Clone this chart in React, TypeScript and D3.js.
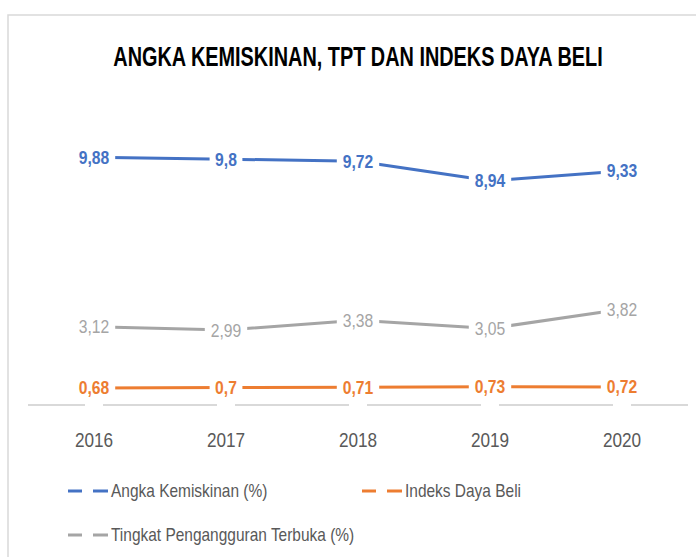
import * as d3 from "d3";

// ---------------------------------------------------------------------------
// Data
// ---------------------------------------------------------------------------

const YEARS = ["2016", "2017", "2018", "2019", "2020"];
const KEMISKINAN = [9.88, 9.8, 9.72, 8.94, 9.33];
const TPT = [3.12, 2.99, 3.38, 3.05, 3.82];
const DAYA_BELI = [0.68, 0.7, 0.71, 0.73, 0.72];

const SERIES = [
  { name: "Angka Kemiskinan (%)", values: KEMISKINAN, color: "#4472C4" },
  { name: "Tingkat Pengangguran Terbuka (%)", values: TPT, color: "#A5A5A5" },
  { name: "Indeks Daya Beli", values: DAYA_BELI, color: "#ED7D31" },
];

const TITLE = "ANGKA KEMISKINAN, TPT DAN INDEKS DAYA BELI";

const W = 696;
const H = 557;
const FONT = "'Liberation Sans', Arial, sans-serif";
const fmt = (v: number) => String(v).replace(".", ",");

// narrow text, like the Calibri look of the original
function NText({
  x,
  y,
  sx = 0.84,
  anchor = "start",
  children,
  ...rest
}: any) {
  return (
    <text
      transform={`translate(${x},${y}) scale(${sx},1)`}
      textAnchor={anchor}
      fontFamily={FONT}
      {...rest}
    >
      {children}
    </text>
  );
}

export default function App() {
  const x = d3.scaleBand().domain(YEARS).range([28, 688]);
  const cx = (yr: string) => (x(yr) ?? 0) + x.bandwidth() / 2;
  const y = d3.scaleLinear().domain([0, 12]).range([405, 104]);

  const line = d3
    .line<number>()
    .x((_d, i) => cx(YEARS[i]))
    .y((d) => y(d));

  const legend = [
    { s: SERIES[0], lx: 68, ly: 491 },
    { s: SERIES[2], lx: 362, ly: 491 },
    { s: SERIES[1], lx: 68, ly: 535 },
  ];

  return (
    <svg
      width={W}
      height={H}
      style={{ position: "absolute", left: 0, top: 0, background: "#fff" }}
    >
      <rect x={0} y={0} width={W} height={H} fill="#fff" />
      {/* chart frame, running off the right and bottom edges */}
      <rect
        x={8}
        y={15}
        width={W + 20}
        height={H + 20}
        fill="#fff"
        stroke="#D9D9D9"
        strokeWidth={1.5}
      />

      <NText
        x={358}
        y={66}
        sx={0.71}
        anchor="middle"
        fontSize={28}
        fontWeight="bold"
        fill="#000"
      >
        {TITLE}
      </NText>

      {/* category axis, broken at each category */}
      {YEARS.map((yr, i) => {
        const x0 = i === 0 ? 28 : cx(YEARS[i - 1]) + 9;
        const x1 = cx(yr) - 9;
        return (
          <line key={yr} x1={x0} x2={x1} y1={405} y2={405} stroke="#D9D9D9" strokeWidth={2} />
        );
      })}
      <line
        x1={cx(YEARS[YEARS.length - 1]) + 9}
        x2={688}
        y1={405}
        y2={405}
        stroke="#D9D9D9"
        strokeWidth={2}
      />

      {YEARS.map((yr) => (
        <NText
          key={yr}
          x={cx(yr)}
          y={447}
          sx={0.86}
          anchor="middle"
          fontSize={20}
          fill="#595959"
        >
          {yr}
        </NText>
      ))}

      {SERIES.map((s) => (
        <path
          key={s.name}
          d={line(s.values) ?? ""}
          fill="none"
          stroke={s.color}
          strokeWidth={3}
          strokeLinejoin="round"
        />
      ))}

      {SERIES.map((s) =>
        s.values.map((v, i) => {
          const label = fmt(v);
          const w = label.length * 9.6;
          return (
            <g key={s.name + i}>
              <rect
                x={cx(YEARS[i]) - w / 2 - 2}
                y={y(v) - 10}
                width={w + 4}
                height={20}
                fill="#fff"
              />
              <NText
                x={cx(YEARS[i])}
                y={y(v) + 6.5}
                sx={0.87}
                anchor="middle"
                fontSize={18}
                fontWeight={s.color === "#A5A5A5" ? "normal" : "bold"}
                fill={s.color}
              >
                {label}
              </NText>
            </g>
          );
        })
      )}

      {legend.map(({ s, lx, ly }) => (
        <g key={s.name}>
          <line x1={lx} x2={lx + 14} y1={ly} y2={ly} stroke={s.color} strokeWidth={3} />
          <line x1={lx + 25} x2={lx + 40} y1={ly} y2={ly} stroke={s.color} strokeWidth={3} />
          <NText x={lx + 43} y={ly + 6} sx={0.86} fontSize={18} fill="#595959">
            {s.name}
          </NText>
        </g>
      ))}
    </svg>
  );
}
